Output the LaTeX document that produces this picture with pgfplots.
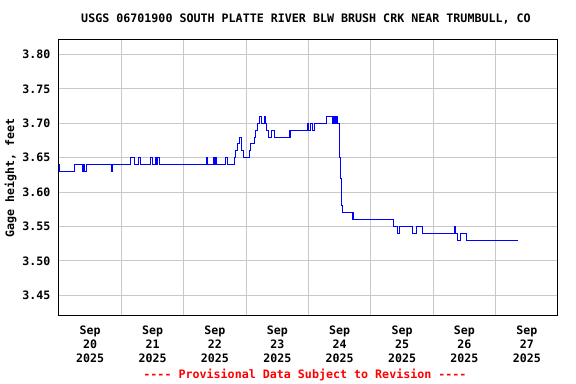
\documentclass[border=0pt]{standalone}
\usepackage{pgfplots}
\pgfplotsset{compat=1.18}
\usepackage{fontspec}
\setmainfont{DejaVu Sans Mono}
\definecolor{gridgray}{RGB}{200,200,200}
\begin{document}
\begin{tikzpicture}[x=1pt,y=1pt]
\path[use as bounding box] (0,0) rectangle (432,288);
\begin{axis}[
  at={(44.25pt,51pt)}, anchor=south west,
  scale only axis, width=374.25pt, height=207.5pt,
  xmin=0, xmax=8, ymin=3.42, ymax=3.822,
  xtick={0.5,1.5,2.5,3.5,4.5,5.5,6.5,7.5},
  xticklabels={{Sep\\20\\2025},{Sep\\21\\2025},{Sep\\22\\2025},{Sep\\23\\2025},{Sep\\24\\2025},{Sep\\25\\2025},{Sep\\26\\2025},{Sep\\27\\2025}},
  minor xtick={1,2,3,4,5,6,7},
  xminorgrids=true, xmajorgrids=false, ymajorgrids=true,
  ytick={3.45,3.50,3.55,3.60,3.65,3.70,3.75,3.80},
  /pgf/number format/fixed,
  /pgf/number format/fixed zerofill,
  /pgf/number format/precision=2,
  /pgf/number format/assume math mode=true,
  major tick length=0pt, minor tick length=0pt,
  grid style={gridgray, line width=0.75pt},
  minor grid style={gridgray, line width=0.75pt},
  axis line style={line width=0.75pt},
  tick label style={font=\fontsize{8.7}{10.6}\selectfont\bfseries},
  xticklabel style={align=center, yshift=-4pt},
  yticklabel style={xshift=-3pt},
  ylabel={Gage height, feet},
  ylabel style={font=\fontsize{8.7}{10.6}\selectfont\bfseries, yshift=-2.5pt},
]
\addplot[const plot, blue, line width=0.75pt] coordinates {
(0.000,3.64) (0.013,3.63) (0.245,3.64) (0.380,3.63) (0.393,3.64) (0.409,3.63)
(0.433,3.64) (0.849,3.63) (0.862,3.64) (1.149,3.65) (1.218,3.64) (1.282,3.65)
(1.314,3.64) (1.474,3.65) (1.498,3.64) (1.554,3.65) (1.571,3.64) (1.587,3.65)
(1.619,3.64) (2.367,3.65) (2.388,3.64) (2.479,3.65) (2.500,3.64) (2.508,3.65)
(2.527,3.64) (2.676,3.65) (2.697,3.64) (2.816,3.65) (2.825,3.66) (2.864,3.67)
(2.889,3.68) (2.921,3.67) (2.933,3.66) (2.954,3.65) (3.050,3.66) (3.072,3.67)
(3.130,3.68) (3.157,3.69) (3.178,3.70) (3.221,3.71) (3.242,3.70) (3.264,3.70)
(3.296,3.71) (3.306,3.70) (3.329,3.69) (3.361,3.68) (3.405,3.69) (3.454,3.68)
(3.691,3.69) (3.702,3.68) (3.718,3.69) (3.979,3.70) (4.006,3.69) (4.038,3.70)
(4.071,3.69) (4.098,3.70) (4.290,3.71) (4.386,3.70) (4.399,3.71) (4.412,3.70)
(4.423,3.71) (4.434,3.70) (4.447,3.71) (4.460,3.70) (4.492,3.68) (4.500,3.65)
(4.511,3.62) (4.524,3.60) (4.535,3.58) (4.546,3.57) (4.700,3.56) (4.720,3.57)
(4.728,3.56) (5.357,3.55) (5.433,3.54) (5.465,3.55) (5.673,3.54) (5.737,3.55)
(5.829,3.54) (6.346,3.55) (6.357,3.54) (6.394,3.53) (6.442,3.54) (6.538,3.53)
(6.571,3.53) (7.351,3.53)
};
\end{axis}
\node[font=\fontsize{8.75}{10.6}\selectfont\bfseries] at (229.5,273.75) {USGS 06701900 SOUTH PLATTE RIVER BLW BRUSH CRK NEAR TRUMBULL, CO};
\node[font=\fontsize{8.75}{10.6}\selectfont\bfseries, text=red] at (228.75,6.75) {{-}{-}{-}{-} Provisional Data Subject to Revision {-}{-}{-}{-}};
\end{tikzpicture}
\end{document}
